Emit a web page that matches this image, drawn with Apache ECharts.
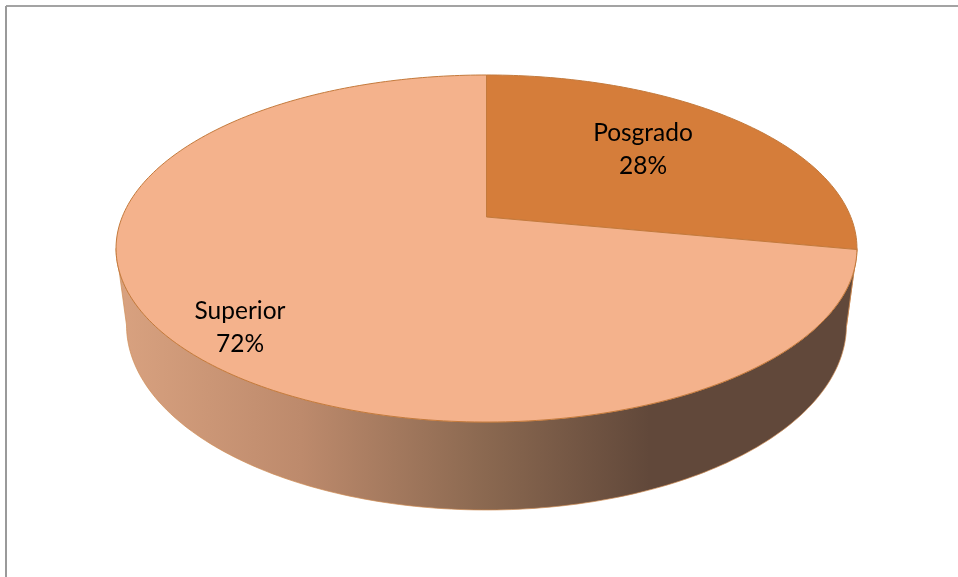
<!DOCTYPE html>
<html>
<head>
<meta charset="utf-8">
<style>
	html, body { margin: 0; padding: 0; background: #fff; }
	#chart { width: 958px; height: 577px; }
</style>
<script src="https://cdn.jsdelivr.net/npm/echarts@6/dist/echarts.min.js"></script>
</head>
<body>
<div id="chart"></div>
<script>
	var categories = ['Posgrado', 'Superior'];
	var percents = [28, 72];

	// look of each slice, same order as categories
	var sliceColors = ['#d57d3a', '#f4b28c'];
	var labelCenters = [[643, 150], [240, 328]];

	// perspective of the disc: top face and bottom rim
	var tilt = 0.1816;
	var topFace = { x: 486.5, y: 217, a: 364.3, b: 167.8 };
	var bottomFace = { x: 486.5, y: 291.4, a: 354, b: 178.9 };

	var total = percents.reduce(function (s, v) { return s + v; }, 0);

	// angle in degrees, clockwise from twelve o'clock
	function project(face, deg) {
		var t = deg * Math.PI / 180;
		var u = Math.sin(t), v = Math.cos(t);
		var w = 1 + tilt * v;
		return [face.x + face.a * u / w, face.y - face.b * v / w];
	}

	function arc(face, from, to) {
		var pts = [];
		var n = Math.max(2, Math.ceil(Math.abs(to - from)));
		for (var i = 0; i <= n; i++) {
			pts.push(project(face, from + (to - from) * i / n));
		}
		return pts;
	}

	var frontFrom = Math.acos(-tilt) * 180 / Math.PI;
	var frontTo = 360 - frontFrom;

	function renderSlice(params, api) {
		var i = params.dataIndex;
		var before = 0;
		for (var j = 0; j < i; j++) before += percents[j];
		var start = before / total * 360;
		var end = (before + api.value(1)) / total * 360;

		var children = [];

		// side wall, only the part facing the viewer
		var wallFrom = Math.max(start, frontFrom);
		var wallTo = Math.min(end, frontTo);
		if (wallTo > wallFrom) {
			children.push({
				type: 'polygon',
				z2: 1,
				shape: { points: arc(topFace, wallFrom, wallTo).concat(arc(bottomFace, wallTo, wallFrom)) },
				style: {
					stroke: '#cf8c55',
					lineWidth: 0.7,
					fill: new echarts.graphic.LinearGradient(0, 0, 1, 0, [
						{ offset: 0, color: '#d9a280' },
						{ offset: 0.25, color: '#bd8a6c' },
						{ offset: 0.5, color: '#8a6850' },
						{ offset: 0.72, color: '#61483a' },
						{ offset: 1, color: '#61483a' }
					])
				}
			});
		}

		children.push({
			type: 'polygon',
			z2: 2,
			shape: { points: [[topFace.x, topFace.y]].concat(arc(topFace, start, end)) },
			style: { fill: sliceColors[i], stroke: '#c47a3c', lineWidth: 1 }
		});

		children.push({
			type: 'text',
			z2: 3,
			x: labelCenters[i][0],
			y: labelCenters[i][1],
			style: {
				text: categories[i] + '\n' + api.value(1) + '%',
				fill: '#000',
				font: '24.5px Lato',
				lineHeight: 33,
				align: 'center',
				verticalAlign: 'middle'
			}
		});

		return { type: 'group', children: children };
	}

	var chart = echarts.init(document.getElementById('chart'), null, { renderer: 'canvas' });
	chart.setOption({
		animation: false,
		backgroundColor: '#fff',
		graphic: [{
			type: 'line',
			silent: true,
			shape: { x1: 6, y1: 6, x2: 958, y2: 6 },
			style: { stroke: '#858585', lineWidth: 1.5 }
		}, {
			type: 'line',
			silent: true,
			shape: { x1: 6, y1: 6, x2: 6, y2: 577 },
			style: { stroke: '#9a9a9a', lineWidth: 2 }
		}],
		series: [{
			type: 'custom',
			coordinateSystem: 'none',
			renderItem: renderSlice,
			data: categories.map(function (name, i) {
				return { name: name, value: [i, percents[i]] };
			})
		}]
	});
</script>
</body>
</html>
